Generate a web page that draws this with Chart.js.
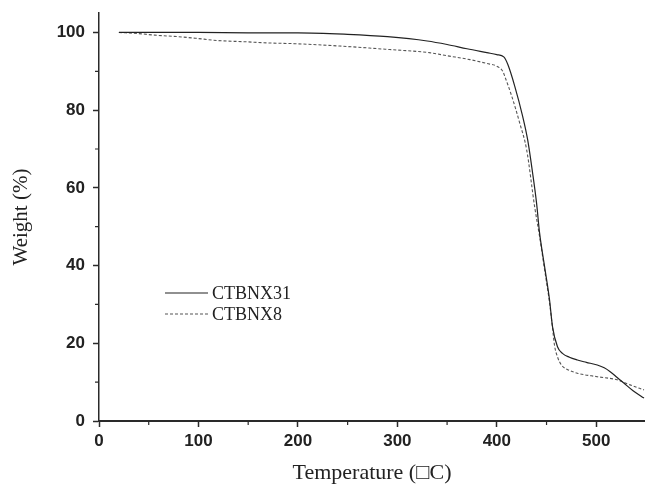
<!DOCTYPE html>
<html>
<head>
<meta charset="utf-8">
<script src="https://cdn.jsdelivr.net/npm/chart.js@4"></script>
<style>
  body { margin: 0; background: #fff; }
  #wrap { width: 645px; height: 489px; position: relative; }
</style>
</head>
<body>
<div id="wrap"><canvas id="chart"></canvas></div>
<script>
// TGA-kurvor
let temp31 = [20, 50, 100, 150, 200, 250, 290, 330, 350, 370, 390, 400, 407, 411, 418, 426, 431, 436, 440, 443, 448, 453, 456, 461, 466, 473, 481, 490, 501, 508, 514, 521, 528, 537, 548];
let weight31 = [100, 100, 100, 99.9, 99.9, 99.5, 98.9, 97.8, 96.9, 95.8, 94.8, 94.3, 93.7, 91.8, 86.2, 78.4, 72.4, 63.8, 56, 48.4, 39.8, 31.2, 24.3, 19.1, 17.4, 16.4, 15.7, 15.1, 14.4, 13.7, 12.7, 11.2, 9.7, 7.8, 5.9];

let temp8 = [20, 40, 56, 80, 97, 120, 147, 170, 197, 242, 292, 332, 350, 373, 390, 400, 406, 408, 415, 423, 430, 438, 443, 448, 453, 456, 458, 461, 465, 470, 481, 501, 521, 534, 548];
let weight8 = [100, 99.7, 99.3, 98.9, 98.5, 97.9, 97.6, 97.3, 97.1, 96.5, 95.6, 94.8, 94.0, 93.0, 92.0, 91.3, 90.0, 88.7, 83.6, 76.7, 69.8, 55.2, 47.5, 39, 30.5, 24, 19.5, 16.5, 14.4, 13.4, 12.3, 11.4, 10.6, 9.3, 8.0];

let seriesNames = ['CTBNX31', 'CTBNX8'];
let xTitle = 'Temperature (\u25A1C)';
let yTitle = 'Weight (%)';

let axisColor = '#2a2a2a';
let tickFont = { family: 'Liberation Sans', size: 17, weight: 'bold' };
let titleFont = { family: 'Liberation Serif', size: 21 };

function toPoints(xs, ys) {
	return xs.map((x, i) => ({ x: x, y: ys[i] }));
}

// små mellanstreck (minor ticks) via skalornas egna pixelfunktioner
let minorTicks = {
	id: 'minorTicks',
	afterDraw(c) {
		let ctx = c.ctx;
		let xs = c.scales.x, ys = c.scales.y;
		ctx.save();
		ctx.strokeStyle = axisColor;
		ctx.lineWidth = 1.2;
		ctx.beginPath();
		for (let v = 10; v < 105; v += 20) {
			let py = ys.getPixelForValue(v);
			ctx.moveTo(xs.left - 4, py);
			ctx.lineTo(xs.left, py);
		}
		for (let v = 50; v < 549; v += 100) {
			let px = xs.getPixelForValue(v);
			ctx.moveTo(px, ys.bottom);
			ctx.lineTo(px, ys.bottom + 4);
		}
		ctx.stroke();
		ctx.restore();
	}
};

// förklaring inne i diagrammet
let insideLegend = {
	id: 'insideLegend',
	afterDraw(c) {
		let ctx = c.ctx;
		ctx.save();
		ctx.font = '18px "Liberation Serif"';
		ctx.textBaseline = 'middle';
		c.data.datasets.forEach((ds, i) => {
			let y = 293 + i * 21;
			ctx.strokeStyle = ds.borderColor;
			ctx.lineWidth = ds.borderWidth;
			ctx.setLineDash(ds.borderDash || []);
			ctx.beginPath();
			ctx.moveTo(165, y);
			ctx.lineTo(208, y);
			ctx.stroke();
			ctx.setLineDash([]);
			ctx.fillStyle = '#222';
			ctx.fillText(ds.label, 212, y + 1);
		});
		ctx.restore();
	}
};

let chart = new Chart(document.getElementById('chart').getContext('2d'), {
	type: 'line',
	data: {
		datasets: [
			{
				label: seriesNames[0],
				data: toPoints(temp31, weight31),
				borderColor: '#222',
				borderWidth: 1.2,
				pointRadius: 0,
				cubicInterpolationMode: 'monotone',
				fill: false
			},
			{
				label: seriesNames[1],
				data: toPoints(temp8, weight8),
				borderColor: '#555',
				borderWidth: 1.1,
				borderDash: [3, 2],
				pointRadius: 0,
				cubicInterpolationMode: 'monotone',
				fill: false
			}
		]
	},
	options: {
		responsive: true,
		maintainAspectRatio: false,
		animation: false,
		layout: { padding: { top: 13, right: 0, left: 0, bottom: 0 } },
		plugins: {
			legend: { display: false },
			tooltip: { enabled: false }
		},
		scales: {
			x: {
				type: 'linear',
				min: 0,
				max: 549,
				afterFit: s => { s.height = 68; },
				ticks: { stepSize: 100, includeBounds: false, color: '#222', font: tickFont, padding: 4, maxRotation: 0 },
				grid: { drawOnChartArea: false, drawTicks: true, tickLength: 6, tickColor: axisColor, tickWidth: 1.5 },
				border: { display: true, color: axisColor, width: 2 },
				title: { display: true, text: xTitle, color: '#222', font: { family: 'Liberation Serif', size: 22 }, padding: { top: 0, bottom: 3 } }
			},
			y: {
				min: 0,
				max: 105,
				afterFit: s => { s.width = 99; s.paddingTop = 0; s.paddingBottom = 0; },
				ticks: { stepSize: 20, includeBounds: false, color: '#222', font: tickFont, padding: 8 },
				grid: { drawOnChartArea: false, drawTicks: true, tickLength: 6, tickColor: axisColor, tickWidth: 1.5 },
				border: { display: true, color: axisColor, width: 1.5 },
				title: { display: true, text: yTitle, color: '#222', font: titleFont, padding: { top: 9, bottom: 0 } }
			}
		}
	},
	plugins: [minorTicks, insideLegend]
});
</script>
</body>
</html>
